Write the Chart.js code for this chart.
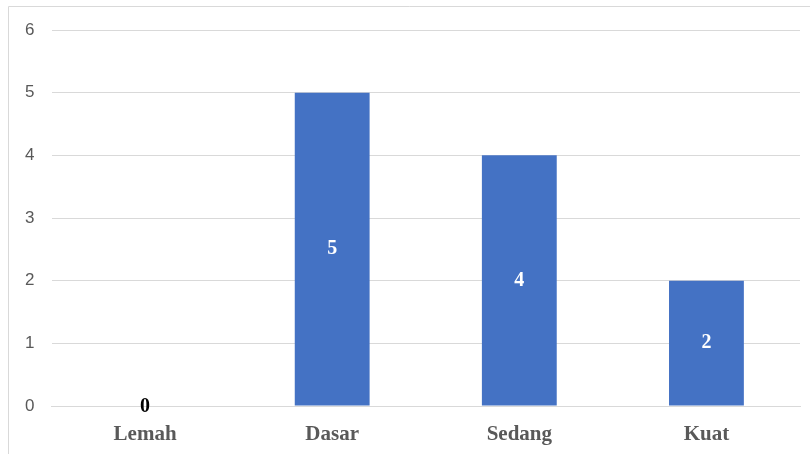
<!DOCTYPE html>
<html>
<head>
<meta charset="utf-8">
<script src="https://cdn.jsdelivr.net/npm/chart.js@4.4.0/dist/chart.umd.min.js"></script>
<style>
  html, body { margin: 0; padding: 0; background: #fff; }
  #wrap { width: 810px; height: 454px; position: relative; }
</style>
</head>
<body>
<div id="wrap"><canvas id="chart"></canvas></div>
<script>
const categories = ["Lemah", "Dasar", "Sedang", "Kuat"];
const values = [0, 5, 4, 2];
const yTicks = [0, 1, 2, 3, 4, 5, 6];

// frame around the chart, like the office export
const framePlugin = {
  id: "frame",
  beforeDraw(chart) {
    const ctx = chart.ctx;
    ctx.save();
    ctx.strokeStyle = "#d9d9d9";
    ctx.lineWidth = 1;
    ctx.beginPath();
    ctx.moveTo(8.5, chart.height);
    ctx.lineTo(8.5, 6.5);
    ctx.lineTo(chart.width, 6.5);
    ctx.stroke();
    ctx.restore();
  },
};

// value labels in the middle of each bar
const valueLabels = {
  id: "valueLabels",
  afterDatasetsDraw(chart) {
    const ctx = chart.ctx;
    const meta = chart.getDatasetMeta(0);
    ctx.save();
    ctx.font = "bold 20px 'Liberation Serif', 'Times New Roman', serif";
    ctx.textAlign = "center";
    ctx.textBaseline = "middle";
    meta.data.forEach((bar, i) => {
      const v = values[i];
      const mid = (bar.y + bar.base) / 2;
      ctx.fillStyle = v === 0 ? "#000" : "#fff";
      ctx.fillText(String(v), bar.x, v === 0 ? mid + 1 : mid);
    });
    ctx.restore();
  },
};

new Chart(document.getElementById("chart"), {
  type: "bar",
  data: {
    labels: categories,
    datasets: [
      {
        data: values,
        backgroundColor: "#4472c4",
        borderWidth: 0,
        barPercentage: 0.8,
        categoryPercentage: 0.5,
      },
    ],
  },
  options: {
    responsive: true,
    maintainAspectRatio: false,
    animation: false,
    layout: { padding: { top: 30, right: 10, bottom: 0, left: 0 } },
    plugins: {
      legend: { display: false },
      tooltip: { enabled: false },
    },
    scales: {
      x: {
        afterFit(scale) {
          scale.height = 48;
        },
        grid: { display: false, drawTicks: false },
        border: { display: true, color: "#d9d9d9" },
        ticks: {
          color: "#595959",
          padding: 16,
          font: { family: "'Liberation Serif', 'Times New Roman', serif", size: 21, weight: "bold" },
        },
      },
      y: {
        min: 0,
        max: 6,
        afterFit(scale) {
          scale.width = 51.5;
        },
        afterBuildTicks(scale) {
          scale.ticks = yTicks.map((v) => ({ value: v }));
        },
        grid: { color: "#d9d9d9", drawTicks: false },
        border: { display: false },
        ticks: {
          color: "#595959",
          padding: 17,
          font: { family: "'Liberation Sans', Arial, sans-serif", size: 17 },
        },
      },
    },
  },
  plugins: [framePlugin, valueLabels],
});
</script>
</body>
</html>
